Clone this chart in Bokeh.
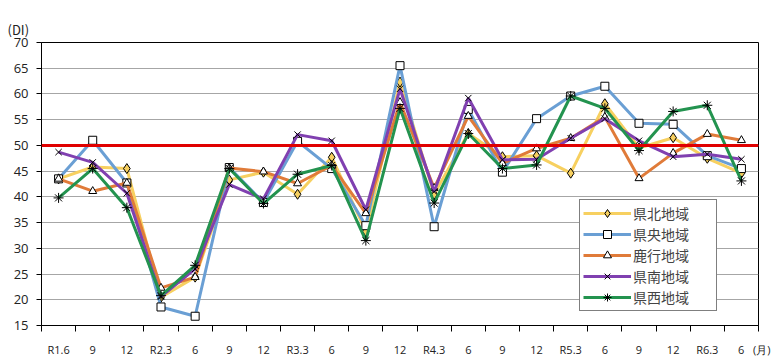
from bokeh.plotting import figure
from bokeh.models import Range1d, FixedTicker, Span, Title, Legend, LegendItem
from bokeh.embed import file_html
from bokeh.resources import INLINE

labels = ["R1.6", "9", "12", "R2.3", "6", "9", "12", "R3.3", "6", "9", "12",
          "R4.3", "6", "9", "12", "R5.3", "6", "9", "12", "R6.3", "6"]
x_unit = "(月)"
y_unit = "(DI)"

kenpoku = [43.5, 45.8, 45.5, 20.5, 24.4, 43.3, 44.8, 40.5, 47.7, 33.3, 62.3,
           40.5, 52.3, 47.8, 48.0, 44.6, 58.1, 49.5, 51.5, 47.5, 44.6]
kenou = [43.5, 51.0, 42.7, 18.6, 16.8, 45.7, 38.9, 50.8, 45.5, 34.4, 65.5,
         34.2, 57.0, 44.8, 55.2, 59.6, 61.5, 54.3, 54.1, 48.0, 45.5]
rokko = [43.5, 41.1, 42.7, 22.3, 24.4, 45.6, 44.9, 42.6, 46.1, 36.8, 58.4,
         41.7, 55.7, 46.5, 49.4, 51.4, 55.5, 43.6, 48.5, 52.2, 51.0]
kennan = [48.7, 46.7, 40.7, 20.6, 26.0, 42.4, 39.6, 52.1, 50.9, 37.5, 61.0,
          41.0, 59.2, 47.2, 47.3, 51.4, 55.2, 50.9, 47.8, 48.3, 47.3]
kensei = [39.8, 45.5, 37.9, 20.8, 26.7, 45.5, 38.7, 44.4, 46.1, 31.5, 57.2,
          38.8, 52.3, 45.5, 46.2, 59.6, 57.2, 49.0, 56.6, 57.8, 43.1]

series_names = ["県北地域", "県央地域", "鹿行地域", "県南地域", "県西地域"]
y_ticks = [15, 20, 25, 30, 35, 40, 45, 50, 55, 60, 65, 70]
threshold = 50

xs = list(range(len(labels)))

p = figure(width=780, height=359, output_backend="svg", toolbar_location=None,
           x_range=Range1d(-0.5, len(labels) - 0.5), y_range=Range1d(15, 70),
           min_border_left=41, min_border_right=22, min_border_top=42,
           min_border_bottom=33)
p.outline_line_color = "black"
p.outline_line_width = 1
p.background_fill_color = "white"
p.border_fill_color = "white"

p.xgrid.visible = False
p.ygrid.ticker = FixedTicker(ticks=y_ticks)
p.ygrid.grid_line_color = "#A6A6A6"
p.ygrid.grid_line_width = 1

p.yaxis.ticker = FixedTicker(ticks=y_ticks)
p.yaxis.minor_tick_line_color = None
p.yaxis.major_tick_out = 5
p.yaxis.major_tick_in = 0
p.yaxis.major_label_standoff = 8
p.yaxis.major_label_text_font = "Open Sans"
p.yaxis.major_label_text_font_size = "13px"
p.yaxis.major_label_text_color = "#222222"
p.yaxis.axis_line_color = "black"
p.yaxis.major_tick_line_color = "black"

# last tick label carries the unit; padded so that "6" stays centred on its tick
nb = "\u00a0"
overrides = {i: lab for i, lab in enumerate(labels)}
overrides[len(labels) - 1] = nb * 9 + labels[-1] + nb * 3 + x_unit

p.xaxis.ticker = FixedTicker(ticks=xs, minor_ticks=[i - 0.5 for i in range(len(labels) + 1)])
p.xaxis.major_label_overrides = overrides
p.xaxis.major_tick_line_color = None
p.xaxis.minor_tick_line_color = "black"
p.xaxis.minor_tick_out = 6
p.xaxis.minor_tick_in = 0
p.xaxis.major_label_standoff = 10
p.xaxis.major_label_text_font = "Open Sans"
p.xaxis.major_label_text_font_size = "11px"
p.xaxis.major_label_text_color = "#222222"
p.xaxis.axis_line_color = "black"

colors = ["#F7D060", "#6A9FD4", "#E07B39", "#8040B0", "#23934F"]
data = [kenpoku, kenou, rokko, kennan, kensei]
markers = ["diamond", "square", "triangle", "x", "asterisk"]
fills = ["#F7D060", "white", "white", None, None]
sizes = [10, 8, 8, 9, 10]

items = []
for name, ys, c, m, f, s in zip(series_names, data, colors, markers, fills, sizes):
    lr = p.line(xs, ys, line_color=c, line_width=3)
    if f is None:
        sr = p.scatter(xs, ys, marker=m, size=s, line_color="black", fill_color=None, line_width=1)
    else:
        sr = p.scatter(xs, ys, marker=m, size=s, line_color="black", fill_color=f, line_width=1)
    items.append(LegendItem(label=name, renderers=[lr, sr]))

p.add_layout(Span(location=threshold, dimension="width", line_color="#E00000", line_width=3))

legend = Legend(items=items, location=(538, 14), glyph_width=48, glyph_height=20,
                spacing=1, padding=3, margin=0, label_standoff=2,
                label_text_font="Noto Sans CJK JP", label_text_font_size="14px",
                label_width=80, border_line_color="black", border_line_width=1,
                background_fill_color="white", background_fill_alpha=1)
p.add_layout(legend)

p.add_layout(Title(text=y_unit, align="left", offset=-34, standoff=8,
                   text_font="Noto Sans CJK JP", text_font_size="13px",
                   text_font_style="normal", text_color="#222222"), "above")

open("out.html", "w").write(file_html(p, INLINE))
